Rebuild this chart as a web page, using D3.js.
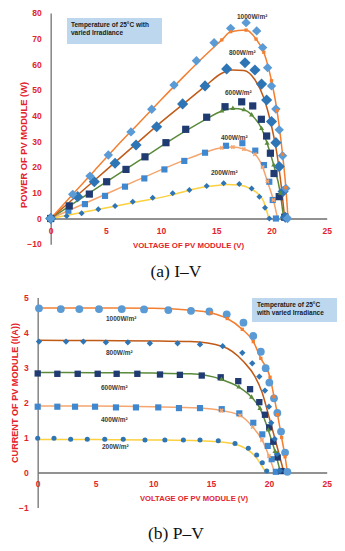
<!DOCTYPE html>
<html>
<head>
<meta charset="utf-8">
<title>PV module curves</title>
<script src="https://d3js.org/d3.v7.min.js"></script>
<style>
  body { margin: 0; background: #fff; }
  text { font-family: "Liberation Sans", Arial, sans-serif; }
  text.caption { font-family: "Liberation Serif", "Times New Roman", serif; }
</style>
</head>
<body>
<div id="chart"></div>
<script>
// irradiance levels, W/m2
var levels = ["1000", "800", "600", "400", "200"];

// panel (a): power vs voltage, measured points [V, P]
var pMeas1000 = [[0,0],[1.99,9.4],[3.56,16.5],[5.22,24.7],[7.27,33.7],[9.15,42.5],[11.17,51.9],[13.2,61.4],[14.8,68.4],[16.3,74],[17.7,76.2],[18.66,73],[19.2,66.5],[19.65,58.7],[20.0,51.6],[20.4,42.6],[20.7,34.5],[21.0,24.4],[21.3,11.7],[21.45,0]];
var pMeas800 = [[0,0],[2.44,8.5],[3.95,14.3],[5.83,21.5],[7.73,28.6],[9.6,35.7],[11.95,44.6],[13.98,51.6],[15.94,58.2],[17.6,60.6],[18.5,57.8],[19.1,52.3],[19.56,46.1],[20.0,37.7],[20.4,29.5],[20.7,20.2],[21.05,10.5],[21.25,0.5]];
var pMeas600 = [[0,0],[1.68,4.9],[3.5,9.5],[5.07,14.3],[6.82,19.1],[8.54,24],[10.44,29.5],[12.23,34.7],[14.13,39.4],[15.79,43.5],[17.3,45.4],[18.3,43.8],[19.08,38.6],[19.56,32.1],[19.9,25.4],[20.23,17.5],[20.7,8.5],[21.2,0.5]];
var pMeas400 = [[0,0],[1.6,3.0],[3.1,5.6],[4.92,8.8],[6.73,12.4],[8.48,15.6],[10.3,19.1],[12.1,22.4],[13.98,25.6],[15.88,28.3],[17.36,29.3],[18.53,26.4],[19.32,20.8],[19.8,14.3],[20.11,7.2],[20.4,0]];
var pMeas200 = [[0,0],[1.45,1.0],[2.8,2.0],[4.31,3.6],[5.83,4.9],[7.43,6.5],[9.24,8.1],[11.05,9.8],[12.56,11.1],[14.13,12.6],[15.67,13.7],[17.08,13.4],[18.2,11.7],[18.9,8.5],[19.41,4.2],[19.8,0]];

// panel (a): simulated curves [V, P]
var pSim1000 = [[0,0],[2,9.4],[4,18.8],[6,28.2],[8,37.2],[10,46.2],[12,55],[14,63.5],[15.5,69.5],[16.3,72.7],[17.7,73.3],[18.6,69.8],[19.3,64.7],[20,53.6],[20.5,42],[21,25],[21.3,12],[21.5,0]];
var pSim800 = [[0,0],[2,7.5],[4,15],[6,22.5],[8,30],[10,37.5],[12,44.5],[14,51.5],[15.5,56.5],[16.5,57.8],[17.5,57.6],[18.5,54],[19.3,47],[20,36],[20.5,25],[20.9,12],[21.2,0]];
var pSim600 = [[0,0],[4,11.3],[8,22.5],[12,33.5],[14,38.5],[15.5,41.8],[16.5,42.8],[17.5,42.3],[18.2,40.3],[19.1,35],[19.6,29.3],[20.2,20.8],[20.8,9.8],[21.1,0]];
var pSim400 = [[0,0],[4,7.6],[8,15.2],[12,22.5],[14,25.8],[15.5,27.5],[16.5,27.8],[17.5,27],[18.5,25],[19.2,20],[19.62,14.5],[20.17,7.2],[20.55,0]];
var pSim200 = [[0,0],[4,3.3],[8,6.6],[11,9.2],[13,11.5],[15,12.8],[16,13.2],[17,13],[18,11.8],[18.8,9.5],[19.3,6.5],[19.5,4],[19.75,0]];

// panel (b): current vs voltage, measured points [V, I]
var iMeas1000 = [[0.11,4.69],[2,4.67],[3.6,4.67],[5.3,4.67],[7.27,4.67],[9.2,4.66],[11.3,4.64],[13.26,4.62],[14.85,4.6],[16.35,4.52],[17.8,4.28],[18.65,3.9],[19.3,3.45],[19.72,2.98],[20.04,2.57],[20.44,2.12],[20.73,1.7],[21.05,1.17],[21.4,0.57],[21.6,0.02]];
var iMeas800 = [[0.11,3.74],[2.45,3.74],[3.95,3.74],[5.9,3.72],[7.8,3.72],[9.7,3.69],[12.1,3.69],[14.04,3.66],[16.0,3.61],[17.7,3.42],[18.56,3.12],[19.17,2.74],[19.66,2.34],[20.0,1.88],[20.2,1.42],[20.5,0.96],[20.7,0.53],[20.96,0.05]];
var iMeas600 = [[0,2.83],[1.7,2.82],[3.46,2.82],[5.19,2.82],[6.83,2.82],[8.62,2.82],[10.58,2.8],[12.3,2.79],[14.19,2.77],[15.83,2.72],[17.35,2.61],[18.37,2.38],[19.17,2.01],[19.66,1.65],[20.03,1.29],[20.38,0.88],[20.76,0.43],[21.1,0.04]];
var iMeas400 = [[0,1.88],[1.7,1.88],[3.23,1.88],[4.96,1.88],[6.77,1.86],[8.5,1.86],[10.43,1.86],[12.22,1.84],[14.04,1.84],[15.92,1.81],[17.44,1.69],[18.65,1.42],[19.43,1.09],[19.9,0.76],[20.24,0.38],[20.6,0.02]];
var iMeas200 = [[0,0.98],[1.41,0.98],[2.85,0.95],[4.29,0.95],[5.8,0.95],[7.4,0.95],[9.28,0.93],[11.0,0.93],[12.6,0.93],[14.04,0.93],[15.62,0.91],[17.07,0.83],[18.22,0.69],[18.94,0.5],[19.43,0.28],[19.81,0.04]];

// panel (b): simulated curves [V, I]
var iSim1000 = [[0,4.7],[5,4.7],[10,4.69],[13,4.64],[15,4.56],[16.4,4.4],[17.7,4.09],[18.65,3.74],[19.3,3.26],[20.1,2.72],[20.44,2.17],[20.75,1.65],[21.1,1.0],[21.4,0.45],[21.6,0]];
var iSim800 = [[0,3.78],[5,3.77],[10,3.76],[13.2,3.74],[16,3.6],[17.8,3.17],[18.8,2.74],[19.4,2.3],[20,1.6],[20.7,0.75],[21.3,0]];
var iSim600 = [[0,2.86],[5,2.85],[10,2.84],[13.2,2.82],[15.9,2.66],[17.4,2.44],[18.5,2.15],[19.23,1.83],[19.95,1.21],[20.53,0.6],[21,0]];
var iSim400 = [[0,1.9],[5,1.9],[10,1.88],[14,1.84],[15.9,1.77],[17.5,1.63],[18.6,1.3],[19.4,0.93],[20.0,0.47],[20.5,0]];
var iSim200 = [[0,0.94],[5,0.94],[10,0.93],[14,0.91],[15.6,0.88],[17.07,0.81],[18.22,0.64],[18.94,0.41],[19.46,0.15],[19.75,0]];

var xTicks = [0, 5, 10, 15, 20, 25];
var pTicks = [-10, 0, 10, 20, 30, 40, 50, 60, 70, 80];
var iTicks = [-1, 0, 1, 2, 3, 4, 5];

var W = 345, H = 551;
var red = "#e3232b", axisGrey = "#8c8c8c";

var svg = d3.select("#chart").append("svg")
    .attr("width", W).attr("height", H);

// look of each irradiance level (simulated line, its small marker, measured marker)
var style = {
  "1000": { line: "#f47f30", small: "square", meas: "#5b9bd5" },
  "800":  { line: "#c05a17", small: null,     meas: "#2e75b6" },
  "600":  { line: "#5a8a3a", small: "triangle", meas: "#1f3b72" },
  "400":  { line: "#f5a56e", small: "cross",  meas: "#3f88d0" },
  "200":  { line: "#fcd03e", small: null,     meas: "#2e75b6" }
};

function drawPanel(p) {
  var g = svg.append("g");
  var x = d3.scaleLinear().domain([0, 25]).range(p.xr);
  var y = d3.scaleLinear().domain(p.yd).range(p.yr);

  // y axis
  var ya = g.append("g").attr("transform", "translate(" + x(0) + ",0)")
      .call(d3.axisLeft(y).tickValues(p.yTicks).tickFormat(d3.format("d"))
        .tickSize(0).tickSizeOuter(0).tickPadding(p.yPad));
  ya.select(".domain").attr("stroke", axisGrey).attr("stroke-width", 1.6);
  // x axis on the zero line
  var xa = g.append("g").attr("transform", "translate(0," + y(0) + ")")
      .call(d3.axisBottom(x).tickValues(xTicks).tickFormat(d3.format("d"))
        .tickSize(0).tickSizeOuter(0).tickPadding(p.xPad));
  xa.select(".domain").attr("stroke", "#6e6e6e").attr("stroke-width", 1.4);
  g.selectAll(".tick text").attr("fill", red).attr("font-size", 8.5)
    .attr("font-weight", "bold");

  var line = d3.line().x(function(d) { return x(d[0]); })
      .y(function(d) { return y(d[1]); }).curve(d3.curveMonotoneX);

  var order = ["200", "400", "600", "800", "1000"];
  order.forEach(function(k) {
    g.append("path").datum(p.sim[k]).attr("d", line)
      .attr("fill", "none").attr("stroke", style[k].line).attr("stroke-width", 1.5);
  });

  order.forEach(function(k) {
    var m = p.meas[k];
    g.selectAll(null).data(p.meas[k].pts).enter().append("path")
      .attr("d", d3.symbol(m.shape === "circle" ? d3.symbolCircle : d3.symbolSquare, m.size))
      .attr("transform", function(d) {
        return "translate(" + x(d[0]) + "," + y(d[1]) + ")" + (m.rot ? " rotate(45)" : "");
      })
      .attr("fill", style[k].meas);
  });

  // small markers on the simulated lines (visible near the knee)
  order.forEach(function(k) {
    var s = style[k].small;
    if (!s) return;
    var pts = p.sim[k].filter(function(d) { return d[0] >= 15 && d[1] > 0; });
    var sym = s === "square" ? d3.symbolSquare : s === "triangle" ? d3.symbolTriangle : d3.symbolCross;
    g.selectAll(null).data(pts).enter().append("path")
      .attr("d", d3.symbol(sym, s === "cross" ? 12 : 11))
      .attr("transform", function(d) {
        return "translate(" + x(d[0]) + "," + y(d[1]) + ")" + (s === "cross" ? " rotate(45)" : "");
      })
      .attr("fill", style[k].line);
  });

  // irradiance labels
  levels.forEach(function(k, i) {
    g.append("text").attr("x", p.lab[i][0]).attr("y", p.lab[i][1])
      .attr("font-size", 6.5).attr("font-weight", "bold").attr("fill", "#3a3a3a")
      .text(k + "W/m\u00b2");
  });

  // note box
  g.append("rect").attr("x", p.box[0]).attr("y", p.box[1])
    .attr("width", p.box[2]).attr("height", p.box[3]).attr("fill", "#bdd7ee");
  p.note.forEach(function(t, i) {
    g.append("text").attr("x", p.box[0] + p.notePad).attr("y", p.box[1] + 9 + i * 8)
      .attr("font-size", 6.5).attr("font-weight", "bold").attr("fill", "#1a1a1a").text(t);
  });

  // axis titles
  g.append("text").attr("x", p.xt[0]).attr("y", p.xt[1]).attr("text-anchor", "middle")
    .attr("font-size", 8).attr("font-weight", "bold").attr("fill", red)
    .attr("textLength", p.xt[2]).attr("lengthAdjust", "spacingAndGlyphs")
    .text("VOLTAGE OF PV MODULE (V)");
  g.append("text").attr("transform", "translate(" + p.yt[0] + "," + p.yt[1] + ") rotate(-90)")
    .attr("text-anchor", "middle")
    .attr("font-size", 8.5).attr("font-weight", "bold").attr("fill", red)
    .attr("textLength", p.yt[2]).attr("lengthAdjust", "spacingAndGlyphs")
    .text(p.ytitle);

  // caption
  g.append("text").attr("class", "caption").attr("x", 176).attr("y", p.cap[1])
    .attr("text-anchor", "middle").attr("font-size", 17.5)
    .attr("fill", "#111").text(p.cap[0]);
}

drawPanel({
  xr: [50.7, 326.7], yd: [-10, 80], yr: [244.2, 12.9], yTicks: pTicks, yPad: 9, xPad: 9,
  sim: { "1000": pSim1000, "800": pSim800, "600": pSim600, "400": pSim400, "200": pSim200 },
  meas: {
    "1000": { pts: pMeas1000, shape: "square", rot: true, size: 44 },
    "800":  { pts: pMeas800,  shape: "square", rot: true, size: 62 },
    "600":  { pts: pMeas600,  shape: "square", rot: false, size: 52 },
    "400":  { pts: pMeas400,  shape: "square", rot: false, size: 38 },
    "200":  { pts: pMeas200,  shape: "square", rot: true, size: 18 }
  },
  lab: [[237, 19], [229, 55], [225, 95], [221, 140], [211, 175]],
  box: [67, 18, 95, 26], notePad: 4, note: ["Temperature of 25\u00b0C with", "varied Irradiance"],
  xt: [188.5, 248, 111], yt: [27, 145, 126], ytitle: "POWER OF PV MODULE (W)",
  cap: ["(a) I\u2013V", 277]
});

drawPanel({
  xr: [37.7, 326.7], yd: [-1, 5], yr: [507.5, 297.5], yTicks: iTicks, yPad: 9, xPad: 8,
  sim: { "1000": iSim1000, "800": iSim800, "600": iSim600, "400": iSim400, "200": iSim200 },
  meas: {
    "1000": { pts: iMeas1000, shape: "circle", rot: false, size: 48 },
    "800":  { pts: iMeas800,  shape: "square", rot: true, size: 20 },
    "600":  { pts: iMeas600,  shape: "square", rot: false, size: 40 },
    "400":  { pts: iMeas400,  shape: "square", rot: false, size: 38 },
    "200":  { pts: iMeas200,  shape: "circle", rot: false, size: 20 }
  },
  lab: [[106, 320.5], [106, 355], [101, 389.5], [101, 422], [102, 449]],
  box: [252, 298, 85, 24], notePad: 5, note: ["Temperature of 25\u00b0C", "with varied Irradiance"],
  xt: [194, 500.5, 108], yt: [18, 393, 140], ytitle: "CURRENT OF PV MODULE (I(A))",
  cap: ["(b) P\u2013V", 539]
});
</script>
</body>
</html>
